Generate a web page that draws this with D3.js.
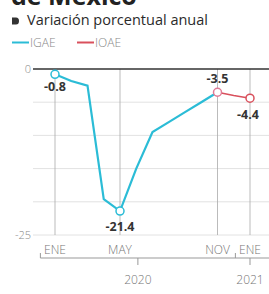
<!DOCTYPE html>
<html>
<head>
<meta charset="utf-8">
<script src="https://cdn.jsdelivr.net/npm/d3@7"></script>
<style>
  body { margin: 0; background: #fff; }
  svg { display: block; font-family: "Open Sans", "Noto Sans", sans-serif; }
</style>
</head>
<body>
<script>
// data
var monthLabels = ["ENE", "MAY", "NOV", "ENE"];
var monthTicks = [0, 4, 10, 12];
var igaeMonths = [0, 1, 2, 3, 4, 5, 6, 7, 8, 9, 10];
var igae = [-0.8, -1.8, -2.5, -19.6, -21.4, -15.0, -9.5, -8.0, -6.5, -5.0, -3.5];
var ioaeMonths = [10, 11, 12];
var ioae = [-3.5, -4.0, -4.4];
var yTicks = [0, -5, -10, -15, -20, -25];
var yLabels = ["0", "", "", "", "", "-25"];
var yearLabels = ["2020", "2021"];
var yearPos = [5.1, 12];
var yearBreaks = [-0.9, 11.1, 13];

var W = 269, H = 294;
var cyan = "#2bbcd6", red = "#d9505c";

var svg = d3.select("body").append("svg")
    .attr("width", W)
    .attr("height", H);

var x = d3.scaleLinear().domain([0, 12]).range([55, 250]);
var y = d3.scaleLinear().domain([0, -25]).range([69, 235]);

// title (cut off at the top, as in the source)
svg.append("text")
    .attr("x", 11).attr("y", 5)
    .style("font-size", "25px").style("font-weight", 700)
    .attr("fill", "#222")
    .text("de México");

// subtitle
svg.append("path")
    .attr("d", "M12,17.5 h4 a3,3.5 0 0 1 0,7 h-4 z")
    .attr("fill", "#333");
svg.append("text")
    .attr("x", 27).attr("y", 25)
    .style("font-size", "14.5px").style("font-weight", 500)
    .attr("fill", "#2a2a2a")
    .text("Variación porcentual anual");

// legend
var legend = [{ name: "IGAE", color: cyan, x: 12 }, { name: "IOAE", color: red, x: 77 }];
legend.forEach(function (d) {
  svg.append("line")
      .attr("x1", d.x).attr("x2", d.x + 17)
      .attr("y1", 42.5).attr("y2", 42.5)
      .attr("stroke", d.color).attr("stroke-width", 2);
  svg.append("text")
      .attr("x", d.x + 18).attr("y", 47)
      .style("font-size", "12px").style("font-weight", 300)
      .attr("fill", "#888")
      .text(d.name);
});

// horizontal grid
svg.selectAll(".hgrid")
    .data(yTicks.filter(function (d) { return d !== 0; }))
    .enter().append("line")
    .attr("x1", 33).attr("x2", W)
    .attr("y1", function (d) { return y(d); })
    .attr("y2", function (d) { return y(d); })
    .attr("stroke", "#e2e2e2").attr("stroke-width", 1);

// vertical grid
svg.selectAll(".vgrid")
    .data(monthTicks)
    .enter().append("line")
    .attr("x1", function (d) { return x(d); })
    .attr("x2", function (d) { return x(d); })
    .attr("y1", y(0)).attr("y2", y(-25))
    .attr("stroke", "#aaa").attr("stroke-width", 0.8);

// zero line
svg.append("line")
    .attr("x1", 33).attr("x2", W)
    .attr("y1", y(0)).attr("y2", y(0))
    .attr("stroke", "#333").attr("stroke-width", 1.5);

// y labels
svg.selectAll(".ylab")
    .data(yTicks)
    .enter().append("text")
    .attr("x", 31)
    .attr("y", function (d) { return y(d) + 4; })
    .attr("text-anchor", "end")
    .style("font-size", "11px").style("font-weight", 300)
    .attr("fill", "#888")
    .text(function (d, i) { return yLabels[i]; });

// x labels
svg.selectAll(".xlab")
    .data(monthTicks)
    .enter().append("text")
    .attr("x", function (d) { return x(d); })
    .attr("y", 254)
    .attr("text-anchor", "middle")
    .style("font-size", "12px").style("font-weight", 300)
    .attr("fill", "#777")
    .text(function (d, i) { return monthLabels[i]; });

// year bracket
svg.append("line")
    .attr("x1", x(yearBreaks[0])).attr("x2", W)
    .attr("y1", 258).attr("y2", 258)
    .attr("stroke", "#999").attr("stroke-width", 1);
svg.selectAll(".ybreak")
    .data(yearBreaks.slice(0, 2))
    .enter().append("line")
    .attr("x1", function (d) { return x(d); })
    .attr("x2", function (d) { return x(d); })
    .attr("y1", 253).attr("y2", 258)
    .attr("stroke", "#999").attr("stroke-width", 1);
svg.selectAll(".ytick")
    .data(yearPos)
    .enter().append("line")
    .attr("x1", function (d) { return x(d); })
    .attr("x2", function (d) { return x(d); })
    .attr("y1", 258).attr("y2", 265)
    .attr("stroke", "#999").attr("stroke-width", 1);
svg.selectAll(".year")
    .data(yearPos)
    .enter().append("text")
    .attr("x", function (d) { return x(d); })
    .attr("y", 284)
    .attr("text-anchor", "middle")
    .style("font-size", "12px").style("font-weight", 300)
    .attr("fill", "#777")
    .text(function (d, i) { return yearLabels[i]; });

// lines
var line = d3.line()
    .x(function (d) { return x(d[0]); })
    .y(function (d) { return y(d[1]); });

svg.append("path")
    .datum(d3.zip(igaeMonths, igae))
    .attr("d", line)
    .attr("fill", "none").attr("stroke", cyan).attr("stroke-width", 2.2);
svg.append("path")
    .datum(d3.zip(ioaeMonths, ioae))
    .attr("d", line)
    .attr("fill", "none").attr("stroke", red).attr("stroke-width", 1.5);

// highlighted points
var points = [
  { m: igaeMonths[0], v: igae[0], c: cyan, dx: 0, dy: 17 },
  { m: igaeMonths[4], v: igae[4], c: cyan, dx: 0, dy: 20 },
  { m: igaeMonths[10], v: igae[10], c: "#e07a95", dx: 0, dy: -9 },
  { m: ioaeMonths[2], v: ioae[2], c: red, dx: -2, dy: 21 }
];
svg.selectAll(".pt")
    .data(points)
    .enter().append("circle")
    .attr("cx", function (d) { return x(d.m); })
    .attr("cy", function (d) { return y(d.v); })
    .attr("r", 4)
    .attr("fill", "#fff")
    .attr("stroke", function (d) { return d.c; })
    .attr("stroke-width", 1.5);
svg.selectAll(".plab")
    .data(points)
    .enter().append("text")
    .attr("x", function (d) { return x(d.m) + d.dx; })
    .attr("y", function (d) { return y(d.v) + d.dy; })
    .attr("text-anchor", "middle")
    .style("font-size", "12.5px").style("font-weight", 700)
    .attr("fill", "#333")
    .text(function (d) { return d.v.toFixed(1); });
</script>
</body>
</html>
